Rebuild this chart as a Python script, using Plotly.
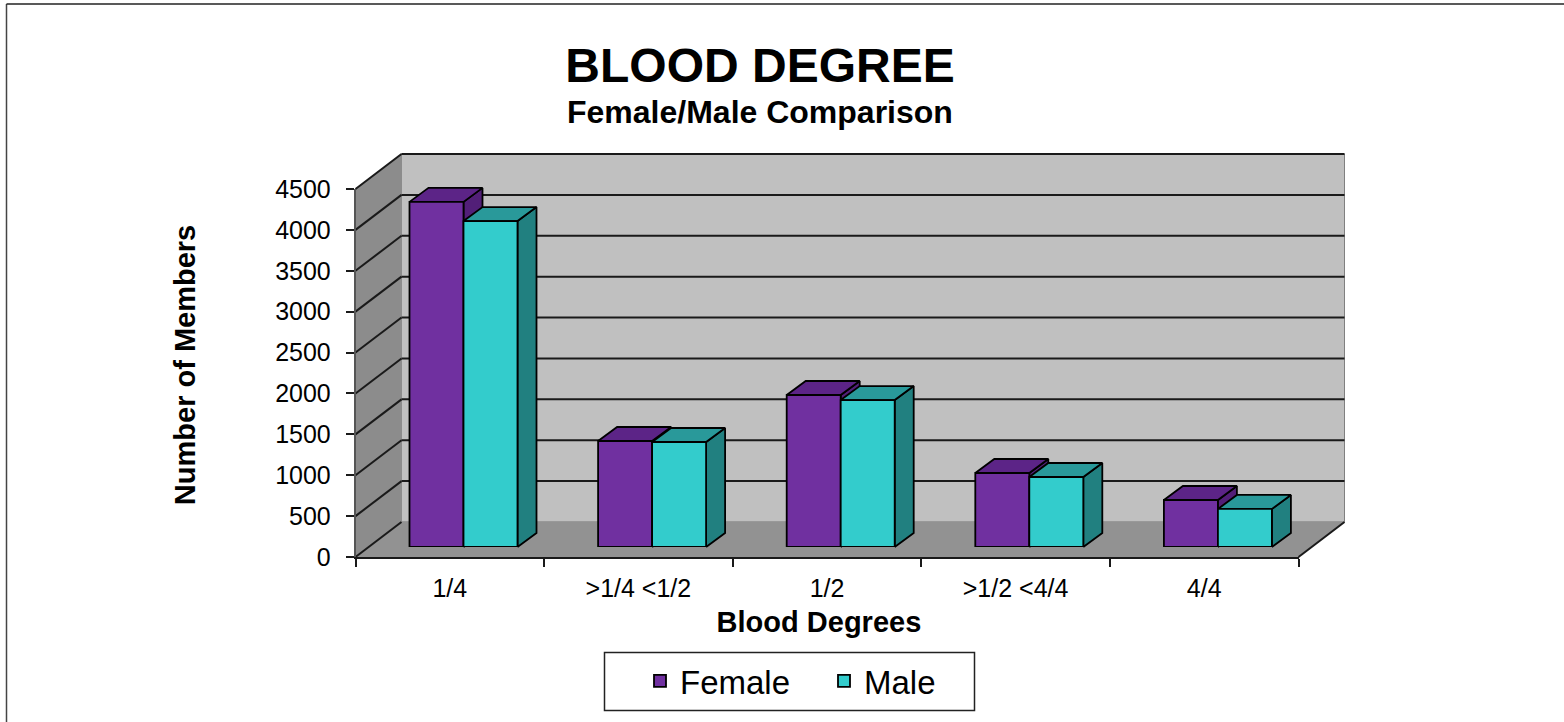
import plotly.graph_objects as go

W, H = 1564, 722
categories = ["1/4", ">1/4 <1/2", "1/2", ">1/2 <4/4", "4/4"]
female = [4220, 1296, 1859, 905, 575]
male = [3986, 1284, 1797, 856, 465]
y_ticks = list(range(0, 5000, 500))

X0, X1, Y0, Y1 = 355.5, 1298.5, 557.0, 189.0
DX, DY = 46.0, 35.0
SHX, SHY = 13.7, 10.0
cat_px = (X1 - X0) / 5
val_px = (Y0 - Y1) / 4500
depth_x, depth_y = DX / cat_px, DY / val_px
shift_x, shift_y = SHX / cat_px, SHY / val_px
bar_dx, bar_dy = 19 / cat_px, 14 / val_px
bar_w = 54 / cat_px
gap = 1 - 2 * bar_w
FRONT_X = [i + gap / 2 + shift_x for i in range(5)]
PAD = 4.0
NB = "\u00a0"


def polys(rects):
    xs, ys = [], []
    for r in rects:
        xs += [p[0] for p in r] + [r[0][0], None]
        ys += [p[1] for p in r] + [r[0][1], None]
    return xs, ys


def add_poly(fig, rects, fill, line="#000000", width=1.8):
    xs, ys = polys(rects)
    fig.add_trace(go.Scatter(x=xs, y=ys, mode="lines", fill="toself", fillcolor=fill,
                             line=dict(color=line, width=width), hoverinfo="skip",
                             showlegend=False, xaxis="x", yaxis="y"))


def add_lines(fig, segs, color, width):
    xs, ys = [], []
    for a, b in segs:
        xs += [a[0], b[0], None]
        ys += [a[1], b[1], None]
    fig.add_trace(go.Scatter(x=xs, y=ys, mode="lines", line=dict(color=color, width=width),
                             hoverinfo="skip", showlegend=False, xaxis="x", yaxis="y"))


fig = go.Figure()
top = y_ticks[-1]
add_poly(fig, [[(depth_x, depth_y), (5 + depth_x, depth_y), (5 + depth_x, top + depth_y), (depth_x, top + depth_y)]],
         "#C0C0C0", "#808080", 1)
add_poly(fig, [[(0, 0), (depth_x, depth_y), (depth_x, top + depth_y), (0, top)]], "#8C8C8C", "#8C8C8C", 1)
add_poly(fig, [[(0, 0), (5, 0), (5 + depth_x, depth_y), (depth_x, depth_y)]], "#929292", "#929292", 1)
add_lines(fig, [((depth_x, v + depth_y), (5 + depth_x, v + depth_y)) for v in y_ticks[1:]], "#1A1A1A", 2)
add_lines(fig, [((0, v), (depth_x, v + depth_y)) for v in y_ticks], "#1A1A1A", 2)
add_lines(fig, [((5, 0), (5 + depth_x, depth_y))], "#1A1A1A", 2)


def side(x, v):
    b = shift_y
    return [(x + bar_w, b), (x + bar_w + bar_dx, b + bar_dy), (x + bar_w + bar_dx, b + v + bar_dy), (x + bar_w, b + v)]


def cap(x, v):
    b = shift_y + v
    return [(x, b), (x + bar_w, b), (x + bar_w + bar_dx, b + bar_dy), (x + bar_dx, b + bar_dy)]


add_poly(fig, [side(x, v) for x, v in zip(FRONT_X, female)], "#521F78")
add_poly(fig, [cap(x, v) for x, v in zip(FRONT_X, female)], "#5C2487")
male_x = [x + bar_w for x in FRONT_X]
add_poly(fig, [side(x, v) for x, v in zip(male_x, male)], "#218080")
add_poly(fig, [cap(x, v) for x, v in zip(male_x, male)], "#29999A")

centers = [i + 0.5 for i in range(5)]
fig.add_trace(go.Scatter(x=centers, y=[0] * 5, mode="lines", line=dict(color="rgba(0,0,0,0)", width=0),
                         hoverinfo="skip", showlegend=False, xaxis="x2", yaxis="y2"))
fig.add_trace(go.Bar(x=centers, y=female, name="Female", xaxis="x3", yaxis="y3",
                     marker=dict(color="#7030A0", line=dict(color="#000000", width=1.8))))
fig.add_trace(go.Bar(x=centers, y=male, name="Male", xaxis="x3", yaxis="y3",
                     marker=dict(color="#33CCCC", line=dict(color="#000000", width=1.8))))

FONT = "Liberation Sans"
fig.update_layout(
    width=W, height=H, margin=dict(l=0, r=0, t=0, b=0, autoexpand=False),
    paper_bgcolor="white", plot_bgcolor="rgba(0,0,0,0)",
    barmode="group", bargap=gap, bargroupgap=0,
    font=dict(family=FONT, color="#000000"),
    title=dict(text="<b>BLOOD DEGREE</b>", x=760 / W, xanchor="center", y=1 - 65 / H, yanchor="middle",
               font=dict(size=48, family=FONT)),
    annotations=[dict(text="<b>Female/Male Comparison</b>", xref="paper", yref="paper", x=759.5 / W,
                      y=1 - 112 / H, xanchor="center", yanchor="middle", showarrow=False,
                      font=dict(size=32, family=FONT))],
    xaxis=dict(domain=[(X0 - PAD) / W, (X1 + DX + PAD) / W],
               range=[-PAD / cat_px, 5 + depth_x + PAD / cat_px], visible=False, anchor="y"),
    yaxis=dict(domain=[1 - (Y0 + PAD) / H, 1 - (Y1 - DY - PAD) / H],
               range=[-PAD / val_px, 4500 + depth_y + PAD / val_px], visible=False, anchor="x"),
    xaxis2=dict(domain=[X0 / W, X1 / W], range=[0, 5], tickmode="array", tickvals=centers, ticktext=categories,
                ticks="", showgrid=False, zeroline=False, showline=True, linecolor="#1A1A1A", linewidth=2,
                tickfont=dict(size=25), anchor="y2", automargin=False, ticklabelstandoff=8,
                minor=dict(tickmode="array", tickvals=list(range(6)), ticks="outside", ticklen=8,
                           tickcolor="#1A1A1A", tickwidth=1.5, showgrid=False),
                title=dict(text="<b>Blood Degrees" + NB * 2 + "</b>", font=dict(size=29), standoff=11)),
    yaxis2=dict(domain=[1 - Y0 / H, 1 - Y1 / H], range=[0, 4500], tickmode="array", tickvals=y_ticks,
                ticks="outside", ticklen=8, tickcolor="#1A1A1A", tickwidth=1.5, showgrid=False, zeroline=False,
                showline=True, linecolor="#555555", linewidth=1.5, tickfont=dict(size=25), anchor="x2",
                automargin=False, ticklabelstandoff=10,
                title=dict(text="<b>" + NB * 2 + "Number of Members</b>", font=dict(size=29), standoff=71)),
    xaxis3=dict(domain=[(X0 + SHX) / W, (X1 + SHX) / W], range=[0, 5], visible=False, anchor="y3"),
    yaxis3=dict(domain=[1 - (Y0 - SHY) / H, 1 - (Y1 - SHY) / H], range=[0, 4500], visible=False, anchor="x3"),
    legend=dict(orientation="h", xref="container", yref="container", x=640 / W, xanchor="left",
                y=1 - 681 / H, yanchor="middle",
                font=dict(size=33), bgcolor="rgba(0,0,0,0)", borderwidth=0,
                entrywidth=139, entrywidthmode="pixels", itemclick=False),
    shapes=[
        dict(type="rect", xref="paper", yref="paper", x0=604.5 / W, x1=974.5 / W, y0=1 - 710.5 / H, y1=1 - 652.5 / H,
             line=dict(color="#222222", width=1.5), fillcolor="white", layer="below"),
        dict(type="line", xref="paper", yref="paper", x0=6.5 / W, x1=6.5 / W, y0=0, y1=1 - 4 / H,
             line=dict(color="#444444", width=1.5), layer="below"),
        dict(type="line", xref="paper", yref="paper", x0=6.5 / W, x1=1, y0=1 - 4 / H, y1=1 - 4 / H,
             line=dict(color="#222222", width=1.5), layer="below"),
    ],
)
fig.write_html("out.html", config=dict(displayModeBar=False),
               post_script="document.body.style.margin='0';document.body.style.overflow='hidden';")
